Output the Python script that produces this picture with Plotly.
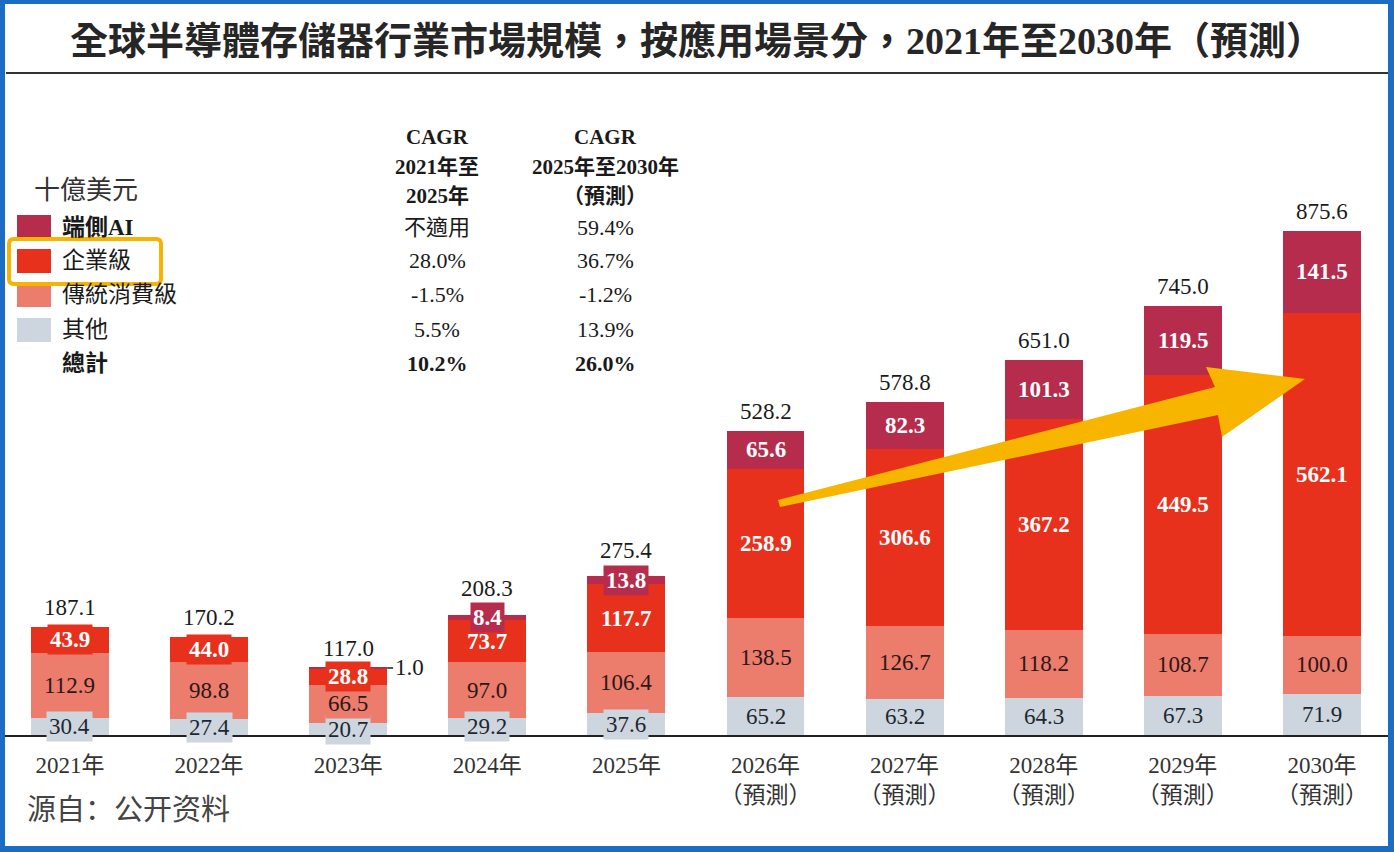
import plotly.graph_objects as go

# ---------------- data ----------------
years = ["2021年", "2022年", "2023年", "2024年", "2025年",
         "2026年<br>（預測）", "2027年<br>（預測）", "2028年<br>（預測）",
         "2029年<br>（預測）", "2030年<br>（預測）"]
other = [30.4, 27.4, 20.7, 29.2, 37.6, 65.2, 63.2, 64.3, 67.3, 71.9]
consumer = [112.9, 98.8, 66.5, 97.0, 106.4, 138.5, 126.7, 118.2, 108.7, 100.0]
enterprise = [43.9, 44.0, 28.8, 73.7, 117.7, 258.9, 306.6, 367.2, 449.5, 562.1]
edge_ai = [0.0, 0.0, 1.0, 8.4, 13.8, 65.6, 82.3, 101.3, 119.5, 141.5]
totals = [187.1, 170.2, 117.0, 208.3, 275.4, 528.2, 578.8, 651.0, 745.0, 875.6]

legend_labels = ["端側AI", "企業級", "傳統消費級", "其他", "總計"]
cagr_head_1 = ["CAGR", "2021年至", "2025年"]
cagr_head_2 = ["CAGR", "2025年至2030年", "（預測）"]
cagr_2125 = ["不適用", "28.0%", "-1.5%", "5.5%", "10.2%"]
cagr_2530 = ["59.4%", "36.7%", "-1.2%", "13.9%", "26.0%"]

title = "全球半導體存儲器行業市場規模，按應用場景分，2021年至2030年（預測）"
unit = "十億美元"
source = "源自：公开资料"

# ---------------- style ----------------
C_AI = "#b52c4d"
C_ENT = "#e8311c"
C_CON = "#ec7c6c"
C_OTH = "#cdd6de"
FRAME = "#1b6cc5"
SERIF = "Liberation Serif, Noto Sans CJK TC, serif"
W, H = 1394, 852
PX_PER_UNIT = 0.5756
BASE_Y = 735


def px(x):
    return x / W


def py(y):
    return 1 - y / H


idx = list(range(len(years)))
series = [
    ("其他", other, C_OTH, "#1e2730", False),
    ("傳統消費級", consumer, C_CON, "#2b1717", False),
    ("企業級", enterprise, C_ENT, "#ffffff", True),
    ("端側AI", edge_ai, C_AI, "#ffffff", True),
]

fig = go.Figure()
for name, vals, col, _, _ in series:
    fig.add_trace(go.Bar(x=idx, y=vals, name=name, marker=dict(color=col, line=dict(width=0)),
                         width=0.56, showlegend=False, hoverinfo="skip"))

ann = []
# segment labels
base = [0.0] * len(idx)
for name, vals, col, tcol, bold in series:
    for i, v in enumerate(vals):
        if v <= 0:
            continue
        txt = f"{v:.1f}"
        if bold:
            txt = f"<b>{txt}</b>"
        if v < 3:
            ann.append(dict(x=i + 0.28, y=base[i] + v / 2, xref="x", yref="y",
                            text=f"{v:.1f}", showarrow=True, arrowhead=0, arrowwidth=1.5,
                            arrowcolor="#222", ax=22, ay=0,
                            font=dict(family=SERIF, size=23, color="#1a1a1a")))
        else:
            ann.append(dict(x=i, y=base[i] + v / 2, xref="x", yref="y", text=txt,
                            showarrow=False, bgcolor=col, borderpad=2,
                            xanchor="center", yanchor="middle",
                            font=dict(family=SERIF, size=23, color=tcol)))
        base[i] += v
# totals (pushed up a little when the top label box is taller than its segment)
for i, t in enumerate(totals):
    top_v = edge_ai[i] if edge_ai[i] >= 3 else 0
    seg_px = top_v * PX_PER_UNIT
    extra = (26 - seg_px) * 0.35 if 0 < seg_px < 26 else 0
    ann.append(dict(x=i, y=base[i], xref="x", yref="y", text=f"{t:.1f}", showarrow=False,
                    xanchor="center", yanchor="bottom", yshift=5 + extra,
                    font=dict(family=SERIF, size=23, color="#1a1a1a")))


def paper_text(x, y, text, size, family=SERIF, color="#1a1a1a", xanchor="center"):
    return dict(x=px(x), y=py(y), xref="paper", yref="paper", text=text, showarrow=False,
                xanchor=xanchor, yanchor="middle", font=dict(family=family, size=size, color=color))


# title
ann.append(paper_text(697, 41, f"<b>{title}</b>", 38, color="#262626"))
# unit
ann.append(paper_text(32, 188, unit, 26, family="Noto Sans CJK TC", color="#333",
                      xanchor="left"))
# legend / table rows
row_y = [227, 261, 295, 330, 364]
sq_cols = [C_AI, C_ENT, C_CON, C_OTH, None]
shapes = []
for k, lab in enumerate(legend_labels):
    y = row_y[k]
    if sq_cols[k]:
        shapes.append(dict(type="rect", xref="paper", yref="paper", x0=px(17), x1=px(51),
                           y0=py(y - 12), y1=py(y + 12), fillcolor=sq_cols[k], line=dict(width=0)))
    b = lab in ("端側AI", "總計")
    ann.append(paper_text(60, y, f"<b>{lab}</b>" if b else lab, 23, xanchor="left"))
    for cx, vals in ((437, cagr_2125), (605, cagr_2530)):
        t = vals[k]
        if k == 4:
            t = f"<b>{t}</b>"
        ann.append(paper_text(cx, y, t, 22))
head_y = [137, 167, 196]
for cx, heads in ((437, cagr_head_1), (605, cagr_head_2)):
    for j, h in enumerate(heads):
        ann.append(paper_text(cx, head_y[j], f"<b>{h}</b>", 21))
# source
ann.append(paper_text(25, 807, source, 29, family="Noto Sans CJK SC", color="#444",
                      xanchor="left"))

# yellow highlight box around 企業級 (rounded)
x0, x1, y0, y1, r = 9, 161, 239, 284, 5
rp = (f"M {px(x0 + r)},{py(y0)} L {px(x1 - r)},{py(y0)} Q {px(x1)},{py(y0)} {px(x1)},{py(y0 + r)} "
      f"L {px(x1)},{py(y1 - r)} Q {px(x1)},{py(y1)} {px(x1 - r)},{py(y1)} "
      f"L {px(x0 + r)},{py(y1)} Q {px(x0)},{py(y1)} {px(x0)},{py(y1 - r)} "
      f"L {px(x0)},{py(y0 + r)} Q {px(x0)},{py(y0)} {px(x0 + r)},{py(y0)} Z")
shapes.append(dict(type="path", xref="paper", yref="paper", path=rp,
                   line=dict(color="#f5b400", width=4), fillcolor="rgba(0,0,0,0)"))
# title underline
shapes.append(dict(type="line", xref="paper", yref="paper", x0=px(6), x1=px(1388),
                   y0=py(73), y1=py(73), line=dict(color="#333", width=2)))
# yellow arrow
pts = [(778, 500), (1215, 387), (1206, 367), (1305, 379), (1222, 437), (1218, 415), (780, 507)]
path = "M " + " L ".join(f"{px(x):.5f},{py(y):.5f}" for x, y in pts) + " Z"
shapes.append(dict(type="path", xref="paper", yref="paper", path=path,
                   fillcolor="#f8b500", line=dict(width=0)))
# blue frame
for fx0, fx1, fy0, fy1 in ((0, 5, 0, H), (W - 6, W, 0, H), (0, W, 0, 4), (0, W, H - 6, H)):
    shapes.append(dict(type="rect", xref="paper", yref="paper", x0=px(fx0), x1=px(fx1),
                       y0=py(fy0), y1=py(fy1), fillcolor=FRAME, line=dict(width=0)))

fig.update_layout(
    width=W, height=H, margin=dict(l=0, r=0, t=0, b=0),
    barmode="stack", bargap=0,
    paper_bgcolor="white", plot_bgcolor="white",
    annotations=ann, shapes=shapes,
    xaxis=dict(domain=[0, 1], range=[-0.503, 9.518], tickvals=idx, ticktext=years,
               showline=True, linecolor="#222", linewidth=2, showgrid=False, zeroline=False,
               ticks="", ticklabelstandoff=8,
               tickfont=dict(family=SERIF, size=23, color="#333"), fixedrange=True),
    yaxis=dict(domain=[(H - BASE_Y) / H, 1], range=[0, BASE_Y / PX_PER_UNIT], visible=False,
               fixedrange=True),
)

fig.write_html("out.html", config={"displayModeBar": False},
               post_script="document.body.style.margin='0';document.body.style.overflow='hidden';")
